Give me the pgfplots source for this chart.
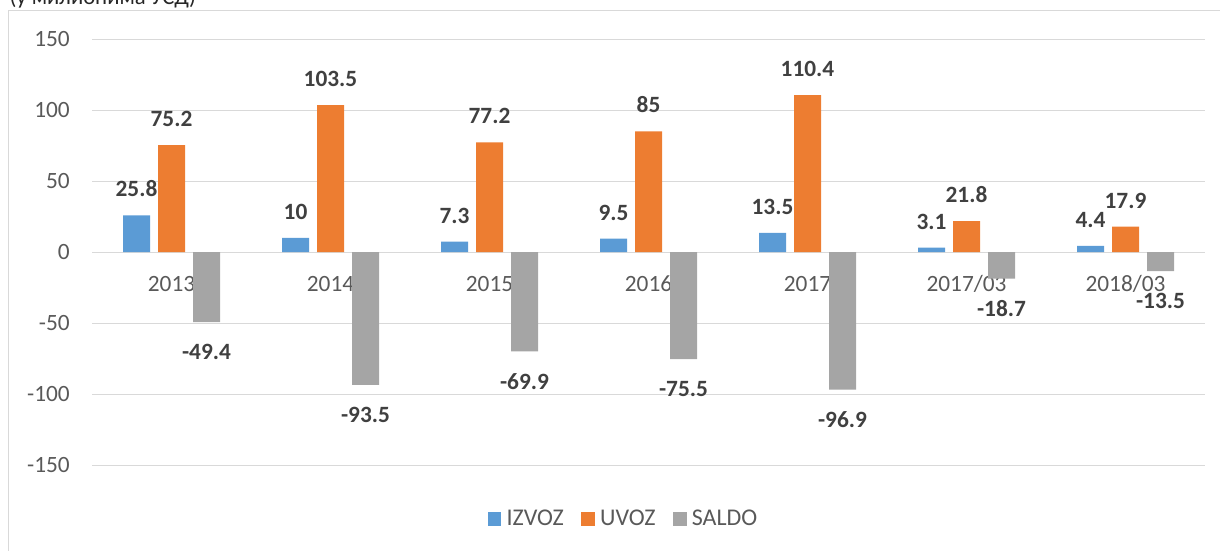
\documentclass[border=0pt]{standalone}
\usepackage{pgfplots}
\pgfplotsset{compat=1.18}
\usepackage{pgfplotstable}
\usepackage{fontspec}
\setmainfont{Carlito}
\definecolor{cIzvoz}{HTML}{5B9BD5}
\definecolor{cUvoz}{HTML}{ED7D31}
\definecolor{cSaldo}{HTML}{A5A5A5}
\definecolor{cTick}{HTML}{595959}
\definecolor{cLab}{HTML}{404040}
\definecolor{cGrid}{HTML}{D9D9D9}
\pgfplotstableread{
x izvoz uvoz saldo
0 25.8 75.2 -49.4
1 10 103.5 -93.5
2 7.3 77.2 -69.9
3 9.5 85 -75.5
4 13.5 110.4 -96.9
5 3.1 21.8 -18.7
6 4.4 17.9 -13.5
}\datatable
\begin{document}
\begin{tikzpicture}
\useasboundingbox (0,0) rectangle (915pt,-412.5pt);
\clip (0,0) rectangle (915pt,-412.5pt);
\draw[cGrid, line width=0.75pt] (6pt,-7.5pt) rectangle (940pt,-440pt);
\node[anchor=base west, inner sep=0pt, font=\fontsize{17}{20}\selectfont, text=black!85] at (7pt,-3.5pt) {(у милионима УСД)};
\begin{axis}[
  at={(69pt,-29.25pt)}, anchor=north west,
  scale only axis, width=834.75pt, height=319.5pt,
  xmin=-0.5, xmax=6.5, ymin=-150, ymax=150,
  ytick={-150,-100,...,150},
  xtick={0,...,6},
  xticklabels={2013,2014,2015,2016,2017,2017/03,2018/03},
  axis line style={draw=none},
  major tick length=0pt,
  ymajorgrids, grid style={cGrid, line width=0.75pt},
  /pgf/number format/assume math mode=true,
  ticklabel style={font=\fontsize{17.5}{20}\selectfont, text=cTick},
  yticklabel style={anchor=east, inner sep=0pt, xshift=-16.5pt},
  xticklabel style={anchor=base, inner sep=0pt, yshift=130.5pt},
  ybar, bar width=20.25pt,
  point meta=explicit symbolic,
  nodes near coords,
  every node near coord/.append style={font=\fontsize{17.5}{20}\selectfont\bfseries, text=cLab, anchor=south, inner ysep=13.5pt, inner xsep=0pt},
  legend columns=3,
  legend style={draw=none, fill=none, at={(0.479,-0.127)}, anchor=center,
    font=\fontsize{18}{20}\selectfont, text=cTick,
    nodes={inner xsep=4pt},
    /tikz/every even column/.append style={column sep=9pt}},
  legend image code/.code={\draw[#1,draw=none] (0pt,-5pt) rectangle (10.25pt,5.25pt);},
]
\addplot[fill=cIzvoz, draw=none, bar shift=-26.25pt] table[x=x, y=izvoz, meta=izvoz] {\datatable};
\addlegendentry{IZVOZ}
\addplot[fill=cUvoz, draw=none, bar shift=0pt] table[x=x, y=uvoz, meta=uvoz] {\datatable};
\addlegendentry{UVOZ}
\addplot[fill=cSaldo, draw=none, bar shift=26.25pt, every node near coord/.append style={anchor=north, inner ysep=16.5pt}] table[x=x, y=saldo, meta=saldo] {\datatable};
\addlegendentry{SALDO}
\end{axis}
\end{tikzpicture}
\end{document}
